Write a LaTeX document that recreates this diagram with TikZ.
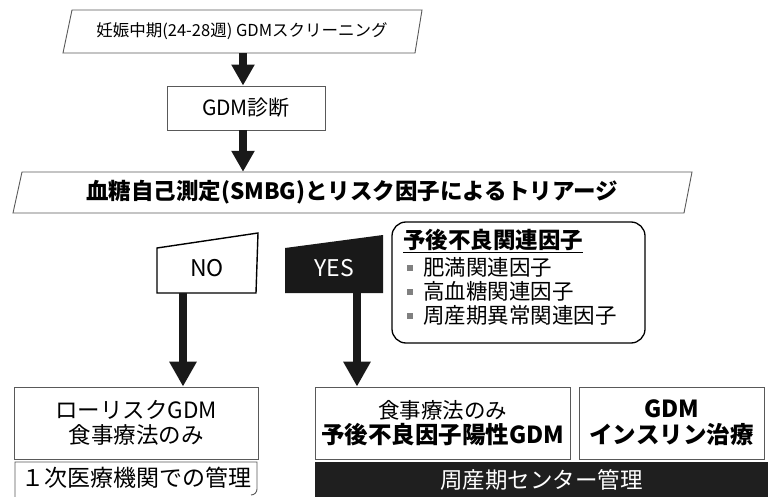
\documentclass[tikz,border=0pt]{standalone}
\usepackage{fontspec}
\setmainfont{Noto Sans CJK JP}
\usetikzlibrary{arrows.meta}
\begin{document}
\begin{tikzpicture}[x=1pt,y=-1pt,
  frame/.style={draw=black!65, line width=0.9pt},
  txt/.style={inner sep=0pt, font=\fontsize{21}{25}\selectfont},
  bigarrow/.style={draw=black!90, line width=7.5pt, -{Triangle[length=21pt,width=22pt]}},
  longarrow/.style={draw=black!90, line width=7.5pt, -{Triangle[length=25pt,width=26pt]}},
]
\useasboundingbox (0,0) rectangle (768,497);
% top parallelogram
\draw[frame] (63,53) -- (72,10) -- (422,10) -- (415,53) -- cycle;
\node[txt, font=\fontsize{16.5}{20}\selectfont, minimum width=343pt, minimum height=43pt] (screen) at (242,31.5) {妊娠中期(24-28週) GDMスクリーニング};
\coordinate (ax) at (243,0);
% diagnosis box
\node[txt, frame, minimum width=158pt, minimum height=44pt] (diag) at (246,108) {GDM診断};
% triage parallelogram
\draw[frame] (13,213) -- (22,172) -- (692,172) -- (684,213) -- cycle;
\node[txt, font=\bfseries\fontsize{22.5}{26}\selectfont, minimum width=670pt, minimum height=41pt] (triage) at (352,192.5) {血糖自己測定(SMBG)とリスク因子によるトリアージ};
\draw[bigarrow] (screen.south -| ax) -- (diag.north -| ax);
\draw[bigarrow] (diag.south -| ax) -- (triage.north -| ax);
% NO / YES
\draw[draw=black, line width=1.4pt] (157,248) -- (258,233) -- (256,293) -- (157,293) -- cycle;
\node[txt, font=\fontsize{23}{26}\selectfont, minimum width=100pt, minimum height=50pt] (no) at (207,268) {NO};
\fill[black!90] (285,248) -- (383,235) -- (383,293) -- (285,293) -- cycle;
\node[txt, font=\fontsize{23}{26}\selectfont, text=white, minimum width=98pt, minimum height=50pt] (yes) at (334,268) {YES};
% factors box
\node[draw, rounded corners=14pt, line width=1.3pt, minimum width=253pt, minimum height=121pt, inner sep=0pt] (factors) at (518.5,282.5) {};
\node[txt, anchor=west, font=\bfseries\fontsize{22.5}{26}\selectfont] (fh) at (403,241) {\underline{予後不良関連因子}};
\node[fill=black!50, minimum size=6pt, inner sep=0pt] (b1) at (410,268) {};
\node[fill=black!50, minimum size=6pt, inner sep=0pt] (b2) at (410,292) {};
\node[fill=black!50, minimum size=6pt, inner sep=0pt] (b3) at (410,316) {};
\node[txt, anchor=west, font=\fontsize{21.5}{24}\selectfont] (f1) at (423,267) {肥満関連因子};
\node[txt, anchor=west, font=\fontsize{21.5}{24}\selectfont] (f2) at (423,291) {高血糖関連因子};
\node[txt, anchor=west, font=\fontsize{21.5}{24}\selectfont] (f3) at (423,315) {周産期異常関連因子};
% bottom boxes
\node[txt, frame, minimum width=244pt, minimum height=72pt, align=center, font=\fontsize{22.5}{25}\selectfont] (low) at (136,423) {ローリスクGDM\\食事療法のみ};
\node[txt, frame, minimum width=255pt, minimum height=72pt, align=center, font=\fontsize{21.5}{25}\selectfont] (mid) at (442.5,423) {食事療法のみ\\{\bfseries\fontsize{23.5}{25}\selectfont 予後不良因子陽性GDM}};
\node[txt, frame, minimum width=185pt, minimum height=72pt, align=center, font=\bfseries\fontsize{23.5}{26}\selectfont] (ins) at (671.5,423) {GDM\\インスリン治療};
\draw[longarrow] ([xshift=-24pt]no.south) -- ([xshift=-24pt]no.south |- low.north);
\draw[longarrow] ([xshift=23pt]yes.south) -- ([xshift=23pt]yes.south |- mid.north);
% management labels
\node[txt, font=\fontsize{23}{25}\selectfont] (primary) at (136,478) {１次医療機関での管理};
\draw[frame] (15,497) -- (15,462) -- (257,462) -- (257,489) to[out=-90,in=0] (251,495);
\node[txt, font=\fontsize{22.5}{25}\selectfont, fill=black!88, text=white, minimum width=453pt, minimum height=35pt] (center) at (541.5,479.5) {周産期センター管理};
\end{tikzpicture}
\end{document}
